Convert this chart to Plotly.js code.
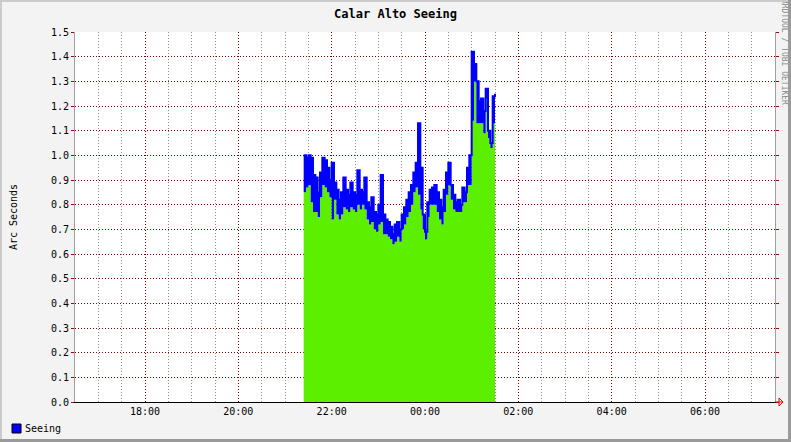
<!DOCTYPE html>
<html><head><meta charset="utf-8">
<script src="https://cdn.plot.ly/plotly-3.0.1.min.js"></script>
<style>
html,body{margin:0;padding:0;background:#f3f3f3;overflow:hidden}
#wrap{position:relative;width:791px;height:442px}
.b{position:absolute;pointer-events:none}
</style></head><body>
<div id="wrap">
<div id="chart" style="width:791px;height:442px"></div>
<div class="b" style="left:0;top:0;width:791px;height:2px;background:#cbcbcb"></div>
<div class="b" style="left:0;top:0;width:2px;height:442px;background:#cbcbcb"></div>
<div class="b" style="right:0;top:0;width:3px;height:442px;background:#9a9a9a"></div>
<div class="b" style="left:0;bottom:0;width:791px;height:3px;background:#9a9a9a"></div>
</div>
<script>
const times = [
'2010-03-10 21:24','2010-03-10 21:27','2010-03-10 21:30','2010-03-10 21:33','2010-03-10 21:36','2010-03-10 21:39',
'2010-03-10 21:42','2010-03-10 21:45','2010-03-10 21:48','2010-03-10 21:51','2010-03-10 21:54','2010-03-10 21:57',
'2010-03-10 22:00','2010-03-10 22:03','2010-03-10 22:06','2010-03-10 22:09','2010-03-10 22:12','2010-03-10 22:15',
'2010-03-10 22:18','2010-03-10 22:21','2010-03-10 22:24','2010-03-10 22:27','2010-03-10 22:30','2010-03-10 22:33',
'2010-03-10 22:36','2010-03-10 22:39','2010-03-10 22:42','2010-03-10 22:45','2010-03-10 22:48','2010-03-10 22:51',
'2010-03-10 22:54','2010-03-10 22:57','2010-03-10 23:00','2010-03-10 23:03','2010-03-10 23:06','2010-03-10 23:09',
'2010-03-10 23:12','2010-03-10 23:15','2010-03-10 23:18','2010-03-10 23:21','2010-03-10 23:24','2010-03-10 23:27',
'2010-03-10 23:30','2010-03-10 23:33','2010-03-10 23:36','2010-03-10 23:39','2010-03-10 23:42','2010-03-10 23:45',
'2010-03-10 23:48','2010-03-10 23:51','2010-03-10 23:54','2010-03-10 23:57','2010-03-11 00:00','2010-03-11 00:03',
'2010-03-11 00:06','2010-03-11 00:09','2010-03-11 00:12','2010-03-11 00:15','2010-03-11 00:18','2010-03-11 00:21',
'2010-03-11 00:24','2010-03-11 00:27','2010-03-11 00:30','2010-03-11 00:33','2010-03-11 00:36','2010-03-11 00:39',
'2010-03-11 00:42','2010-03-11 00:45','2010-03-11 00:48','2010-03-11 00:51','2010-03-11 00:54','2010-03-11 00:57',
'2010-03-11 01:00','2010-03-11 01:03','2010-03-11 01:06','2010-03-11 01:09','2010-03-11 01:12','2010-03-11 01:15',
'2010-03-11 01:18','2010-03-11 01:21','2010-03-11 01:24','2010-03-11 01:27','2010-03-11 01:30'
];
const seeingHigh = [
1.00,0.99,1.00,0.99,0.92,0.91,0.85,0.93,0.99,0.98,0.95,0.90,
0.97,0.89,0.86,0.82,0.85,0.91,0.86,0.84,0.89,0.85,0.84,0.94,
0.86,0.85,0.91,0.81,0.79,0.83,0.77,0.76,0.80,0.92,0.76,0.74,
0.73,0.71,0.68,0.72,0.73,0.70,0.76,0.79,0.82,0.85,0.88,0.93,
0.97,1.13,0.95,0.76,0.69,0.81,0.86,0.87,0.88,0.85,0.82,0.79,
0.86,0.93,0.97,0.88,0.84,0.81,0.82,0.80,0.87,0.85,0.95,1.00,
1.42,1.37,1.30,1.22,1.23,1.18,1.27,1.10,1.05,1.24,1.25
];
const seeingLow = [
0.85,0.87,0.88,0.81,0.77,0.77,0.75,0.83,0.88,0.87,0.85,0.83,
0.74,0.82,0.76,0.74,0.76,0.79,0.78,0.77,0.79,0.78,0.77,0.80,
0.78,0.80,0.78,0.74,0.72,0.73,0.70,0.69,0.72,0.73,0.68,0.68,
0.67,0.66,0.64,0.65,0.67,0.65,0.70,0.72,0.75,0.77,0.80,0.85,
0.87,0.84,0.78,0.70,0.66,0.75,0.80,0.80,0.80,0.77,0.74,0.72,
0.77,0.84,0.88,0.82,0.78,0.77,0.77,0.77,0.81,0.81,0.88,0.88,
1.14,1.30,1.13,1.13,1.13,1.09,1.23,1.07,1.03,1.13,1.20
];
const xRange = ['2010-03-10 16:30','2010-03-11 07:30'];
const yRange = [0, 1.5];
const legendLabel = 'Seeing';

const mono = 'DejaVu Sans Mono, monospace';
const red = '#800000';
const dots = '1px,2px';

const traces = [
  {x: times, y: seeingLow, type: 'scatter', mode: 'lines', line: {width: 0, shape: 'hv', color: '#5cf000'},
   fill: 'tozeroy', fillcolor: '#5cf000', hoverinfo: 'skip', showlegend: false},
  {x: times, y: seeingHigh, type: 'scatter', mode: 'lines', line: {width: 2, shape: 'hv', color: '#0000ff'},
   fill: 'tonexty', fillcolor: '#0000ff', hoverinfo: 'skip', showlegend: false, name: legendLabel}
];

const layout = {
  width: 791, height: 442,
  margin: {l: 75, r: 16, t: 32, b: 40},
  paper_bgcolor: '#f3f3f3', plot_bgcolor: '#ffffff',
  showlegend: false,
  title: {text: '<b>Calar Alto Seeing</b>', font: {family: mono, size: 12, color: '#000'},
          x: 0.5, xref: 'container', xanchor: 'center', y: 0.968, yref: 'container', yanchor: 'middle'},
  xaxis: {type: 'date', range: xRange, tickformat: '%H:%M', dtick: 7200000, tick0: '2010-03-10 18:00',
          showgrid: true, gridcolor: red, griddash: dots, gridwidth: 1,
          minor: {dtick: 1800000, tick0: '2010-03-10 16:30', showgrid: true, gridcolor: '#8c8c8c', griddash: dots, gridwidth: 1},
          ticks: '', showline: true, linecolor: '#000000', linewidth: 1, zeroline: false,
          tickfont: {family: mono, size: 10, color: '#000'}, fixedrange: true},
  yaxis: {range: yRange, dtick: 0.1, tick0: 0, tickformat: '.1f',
          showgrid: true, gridcolor: red, griddash: dots, gridwidth: 1,
          ticks: 'outside', ticklen: 3, tickcolor: '#b00000', tickwidth: 1,
          showline: true, linecolor: '#a0a0a0', linewidth: 1, mirror: 'ticks', zeroline: false,
          tickfont: {family: mono, size: 10, color: '#000'},
          title: {text: 'Arc Seconds', font: {family: mono, size: 10, color: '#000'}, standoff: 31}, fixedrange: true},
  shapes: [
    {type: 'rect', xref: 'paper', yref: 'paper', x0: -0.09, x1: -0.0771, y0: -0.0595, y1: -0.0838,
     fillcolor: '#0000ff', line: {color: '#000', width: 1}},
    {type: 'line', xref: 'paper', yref: 'paper', x0: 1.0, x1: 1.0114, y0: 0, y1: 0, line: {color: '#ff0000', width: 1}},
    {type: 'path', xref: 'paper', yref: 'paper', path: 'M 1.0057,0.0108 L 1.0114,0 L 1.0057,-0.0108 Z',
     fillcolor: 'rgba(0,0,0,0)', line: {color: '#ff0000', width: 1}}
  ],
  annotations: [
    {text: legendLabel, xref: 'paper', yref: 'paper', x: -0.074, y: -0.0703, xanchor: 'left', yanchor: 'middle',
     showarrow: false, font: {family: mono, size: 10, color: '#000'}},
    {text: 'RRDTOOL / TOBI OETIKER', xref: 'paper', yref: 'paper', x: 1.0129, y: 0.946, xanchor: 'center', yanchor: 'middle',
     textangle: 90, showarrow: false, font: {family: mono, size: 8, color: '#888888'}}
  ]
};

Plotly.newPlot('chart', traces, layout, {staticPlot: true, displayModeBar: false});
</script>
</body></html>
